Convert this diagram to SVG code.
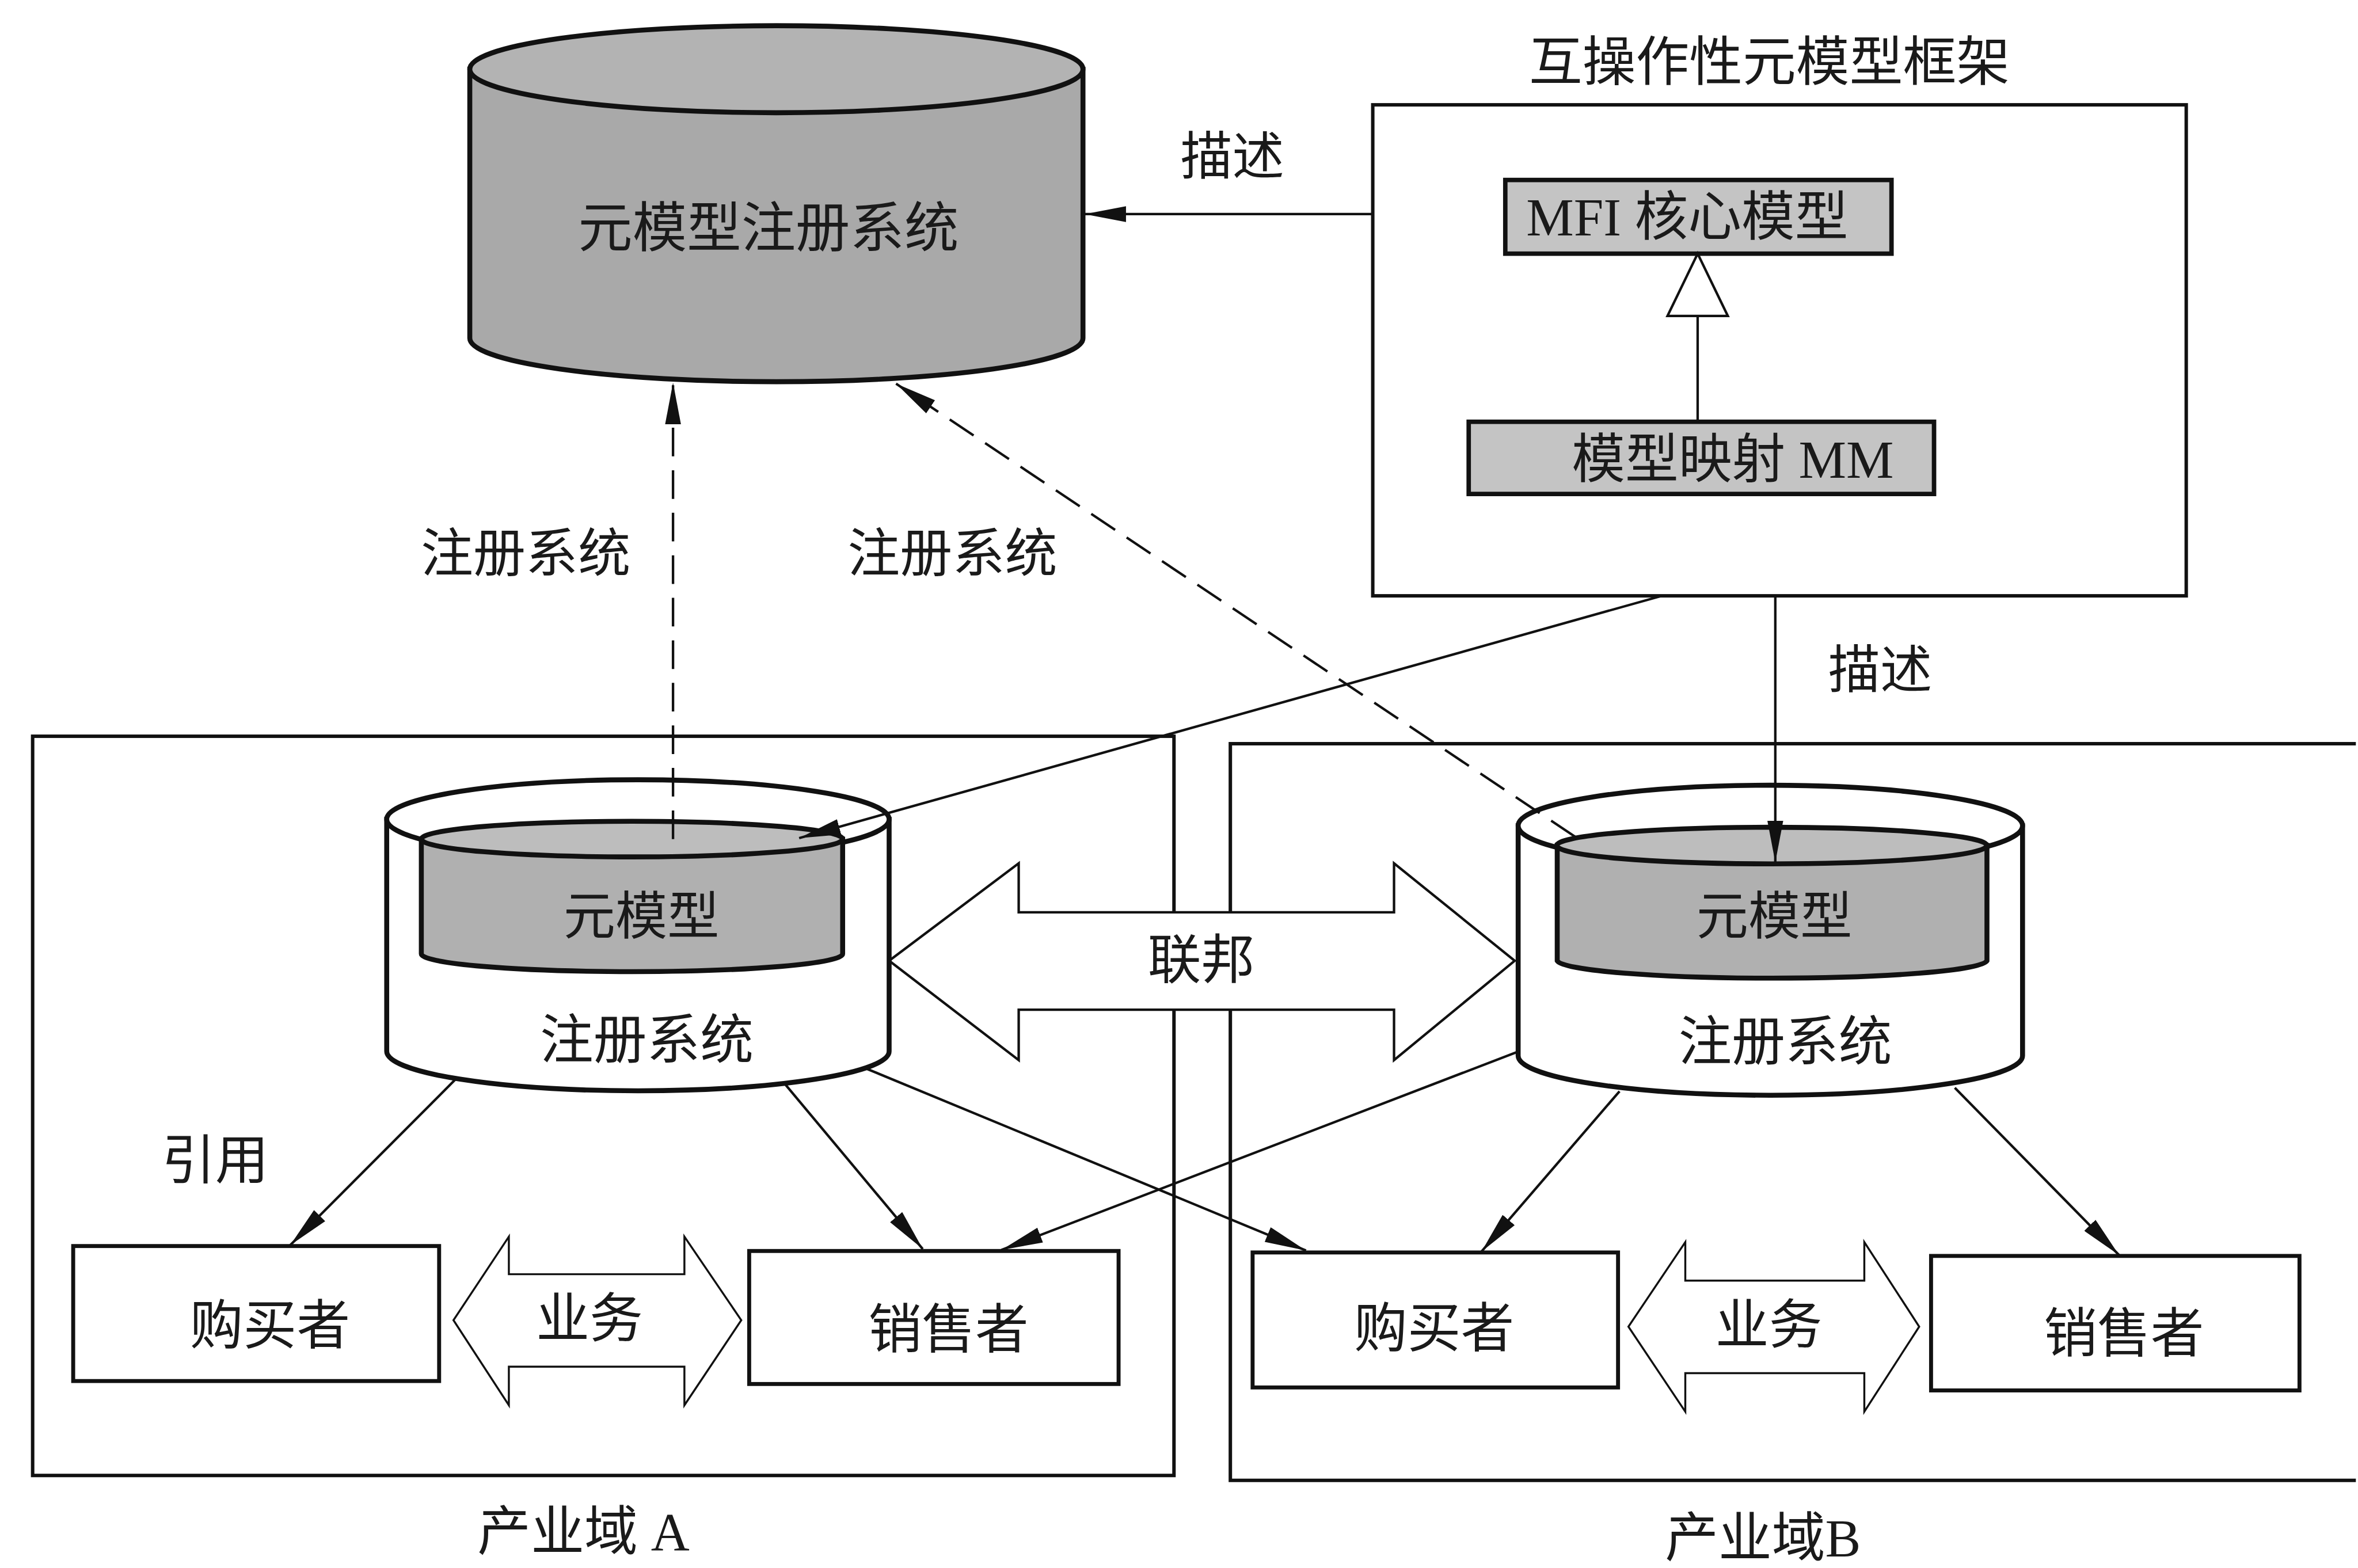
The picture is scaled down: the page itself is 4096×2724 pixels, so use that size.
<svg xmlns="http://www.w3.org/2000/svg" width="4096" height="2724" viewBox="0 0 4096 2724">
<defs>
<style>
.t{font-family:"Liberation Serif","Noto Sans CJK SC",serif;font-size:108px;fill:#1a1a1a;text-anchor:middle;dominant-baseline:central}
.ln{fill:none;stroke:#111;stroke-width:5}
.dash{fill:none;stroke:#111;stroke-width:5;stroke-dasharray:58 28}
.box{fill:#fff;stroke:#111;stroke-width:8}
.gbox{fill:#c4c4c4;stroke:#111;stroke-width:9}
.dom{fill:none;stroke:#111;stroke-width:7}
.cyl{stroke:#111;stroke-width:10}
.fat{fill:#fff;stroke:#111;stroke-width:5;stroke-linejoin:miter}
</style>
<marker id="ah" markerUnits="userSpaceOnUse" markerWidth="84" markerHeight="32" refX="84" refY="16" orient="auto">
<path d="M0,0 L84,16 L0,32 Z" fill="#111"/>
</marker>
</defs>
<rect x="0" y="0" width="4096" height="2724" fill="#fff"/>
<g transform="scale(0.859)">
<g id="domainA">
<rect class="dom" x="66" y="1489" width="2308" height="1495"/>
<text class="t" x="1180" y="3098">产业域 A</text>
</g>
<g id="domainB">
<path class="dom" d="M4764,1504 H2488 V2994 H4764"/>
<text class="t" x="3565" y="3111">产业域B</text>
</g>
<g id="federation">
<polygon class="fat" points="1798,1943 2060,1746 2060,1845 2819,1845 2819,1746 3063,1943 2819,2144 2819,2042 2060,2042 2060,2144"/>
<text class="t" x="2429" y="1942">联邦</text>
</g>
<g id="registry-top">
<path class="cyl" fill="#a9a9a9" d="M950,140 V684 A620,88 0 0 0 2190,684 V140 Z"/>
<ellipse class="cyl" fill="#b3b3b3" cx="1570" cy="140" rx="620" ry="88"/>
<text class="t" x="1554" y="462" style="font-size:110px">元模型注册系统</text>
</g>
<g id="framework">
<text class="t" x="3578" y="126">互操作性元模型框架</text>
<rect class="box" x="2776" y="212" width="1645" height="993" style="stroke-width:7"/>
<rect class="gbox" x="3044" y="364" width="781" height="149"/>
<text class="t" x="3412" y="440">MFI 核心模型</text>
<rect class="gbox" x="2970" y="853" width="941" height="146"/>
<text class="t" x="3504" y="930">模型映射 MM</text>
<line class="ln" x1="3433" y1="639" x2="3433" y2="853"/>
<polygon points="3433,513 3494,639 3372,639" fill="#fff" stroke="#111" stroke-width="5"/>
</g>
<g id="registry-A">
<path class="cyl" fill="#fff" d="M782,1657 V2126 A508,80 0 0 0 1798,2126 V1657 Z"/>
<ellipse class="cyl" fill="#fff" cx="1290" cy="1657" rx="508" ry="80"/>
<path class="cyl" fill="#b0b0b0" d="M852,1697 V1929 A426,36 0 0 0 1704,1929 V1697 Z"/>
<ellipse class="cyl" fill="#bdbdbd" cx="1278" cy="1697" rx="426" ry="36"/>
<text class="t" x="1297" y="1855" style="font-size:105px">元模型</text>
<text class="t" x="1308" y="2104">注册系统</text>
</g>
<g id="registry-B">
<path class="cyl" fill="#fff" d="M3070,1670 V2135 A510,80 0 0 0 4090,2135 V1670 Z"/>
<ellipse class="cyl" fill="#fff" cx="3580" cy="1670" rx="510" ry="82"/>
<path class="cyl" fill="#b0b0b0" d="M3149,1710 V1943 A435,37 0 0 0 4018,1943 V1710 Z"/>
<ellipse class="cyl" fill="#bdbdbd" cx="3583" cy="1710" rx="435" ry="37"/>
<text class="t" x="3588" y="1854" style="font-size:105px">元模型</text>
<text class="t" x="3610" y="2108">注册系统</text>
</g>
<g id="buyerA"><rect class="box" x="148" y="2520" width="740" height="273"/><text class="t" x="546" y="2682">购买者</text></g>
<g id="sellerA"><rect class="box" x="1515" y="2530" width="747" height="269"/><text class="t" x="1918" y="2690">销售者</text></g>
<g id="bizA">
<polygon class="fat" style="stroke-width:4" points="917,2670 1029,2501 1029,2577 1384,2577 1384,2501 1499,2670 1384,2842 1384,2764 1029,2764 1029,2842"/>
<text class="t" x="1192" y="2668">业务</text>
</g>
<g id="buyerB"><rect class="box" x="2533" y="2533" width="739" height="273"/><text class="t" x="2900" y="2688">购买者</text></g>
<g id="sellerB"><rect class="box" x="3905" y="2540" width="745" height="272"/><text class="t" x="4295" y="2698">销售者</text></g>
<g id="bizB">
<polygon class="fat" style="stroke-width:4" points="3293,2683 3408,2512 3408,2590 3770,2590 3770,2512 3881,2683 3770,2855 3770,2777 3408,2777 3408,2855"/>
<text class="t" x="3577" y="2680">业务</text>
</g>
<g id="connectors">
<line class="ln" x1="2776" y1="433" x2="2193" y2="433" marker-end="url(#ah)"/>
<line class="dash" x1="1361" y1="1697" x2="1361" y2="774" marker-end="url(#ah)"/>
<line class="dash" x1="3185" y1="1692" x2="1812" y2="776" marker-end="url(#ah)"/>
<line class="ln" x1="3357" y1="1206" x2="1616" y2="1695" marker-end="url(#ah)"/>
<line class="ln" x1="3590" y1="1206" x2="3590" y2="1744" marker-end="url(#ah)"/>
<line class="ln" x1="922" y1="2182" x2="587" y2="2518" marker-end="url(#ah)"/>
<line class="ln" x1="1587" y1="2192" x2="1866" y2="2526" marker-end="url(#ah)"/>
<line class="ln" x1="1754" y1="2162" x2="2641" y2="2529" marker-end="url(#ah)"/>
<line class="ln" x1="3072" y1="2126" x2="2025" y2="2528" marker-end="url(#ah)"/>
<line class="ln" x1="3275" y1="2207" x2="2996" y2="2531" marker-end="url(#ah)"/>
<line class="ln" x1="3953" y1="2200" x2="4285" y2="2538" marker-end="url(#ah)"/>
<text class="t" x="2492" y="318" style="font-size:105px">描述</text>
<text class="t" x="3802" y="1356" style="font-size:105px">描述</text>
<text class="t" x="1063" y="1120" style="font-size:106px">注册系统</text>
<text class="t" x="1926" y="1120" style="font-size:106px">注册系统</text>
<text class="t" x="435" y="2348">引用</text>
</g>
</g>
</svg>
